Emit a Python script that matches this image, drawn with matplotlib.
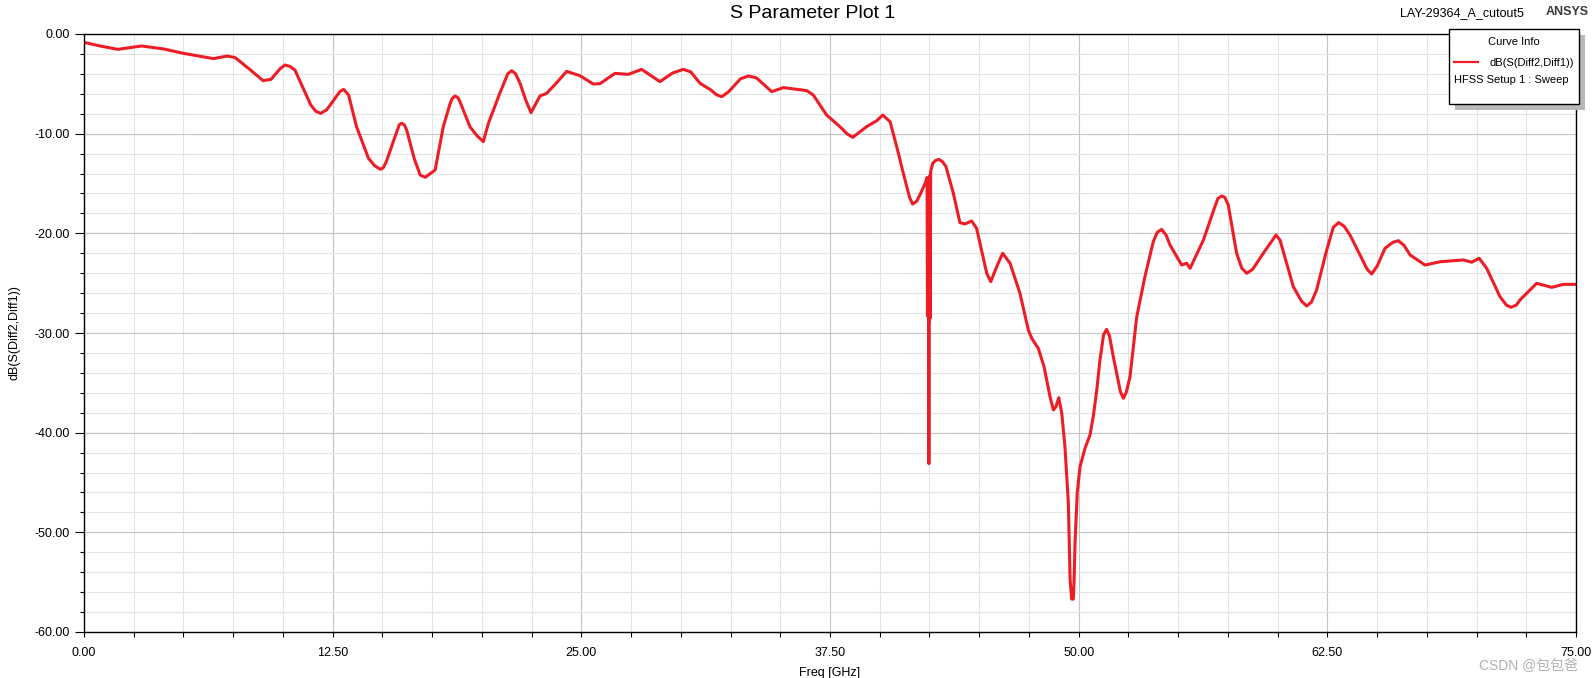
import matplotlib
matplotlib.use("Agg")
import matplotlib.pyplot as plt
from matplotlib.patches import Rectangle
from matplotlib.lines import Line2D
from matplotlib.ticker import MultipleLocator, FormatStrFormatter

# Dados (frequencia em GHz, S21 diferencial em dB)
freq_ghz = [
    0.0, 0.8, 1.7, 2.9, 4.0, 5.0, 6.5, 7.2, 7.6, 8.3,
    9.0, 9.4, 9.85, 10.1, 10.35, 10.6, 11.4, 11.65, 11.9, 12.2,
    12.5, 12.85, 13.05, 13.3, 13.7, 14.3, 14.6, 14.9, 15.05, 15.2,
    15.6, 15.85, 15.97, 16.1, 16.22, 16.6, 16.9, 17.15, 17.65, 18.06,
    18.4, 18.5, 18.65, 18.8, 18.9, 19.4, 19.75, 20.07, 20.33, 20.9,
    21.3, 21.5, 21.7, 21.92, 22.2, 22.47, 22.92, 23.26, 23.8, 24.26,
    24.93, 25.6, 25.94, 26.69, 27.36, 28.03, 28.95, 29.6, 30.13, 30.5,
    30.97, 31.5, 31.8, 32.06, 32.4, 33.0, 33.4, 33.8, 34.57, 35.16,
    36.33, 36.66, 37.33, 38.0, 38.35, 38.64, 38.95, 39.34, 39.85, 40.15,
    40.52, 40.94, 41.1, 41.4, 41.5, 41.65, 41.85, 42.02, 42.30, 42.38,
    42.40, 42.42, 42.43, 42.45, 42.47, 42.49, 42.50, 42.52, 42.54, 42.56,
    42.66, 42.8, 42.97, 43.15, 43.33, 43.7, 44.03, 44.28, 44.62, 44.87,
    45.38, 45.58, 45.88, 46.18, 46.55, 47.05, 47.47, 47.64, 47.97, 48.26,
    48.56, 48.73, 48.86, 49.0, 49.15, 49.31, 49.48, 49.57, 49.65, 49.73,
    49.77, 49.82, 49.93, 50.07, 50.32, 50.57, 50.74, 50.91, 51.07, 51.25,
    51.4, 51.55, 51.74, 52.1, 52.25, 52.4, 52.58, 52.92, 53.33, 53.75,
    53.95, 54.17, 54.4, 54.59, 55.18, 55.43, 55.6, 56.27, 56.8, 57.0,
    57.19, 57.35, 57.52, 57.94, 58.2, 58.45, 58.75, 59.28, 59.92, 60.12,
    60.79, 61.2, 61.46, 61.7, 61.96, 62.47, 62.8, 63.07, 63.35, 63.64,
    64.14, 64.5, 64.73, 65.0, 65.4, 65.8, 66.07, 66.35, 66.66, 67.41,
    68.17, 69.34, 69.76, 70.13, 70.51, 71.18, 71.5, 71.73, 72.0, 72.18,
    73.02, 73.78, 74.36, 75.0,
]
s21_db = [
    -0.84, -1.2, -1.54, -1.2, -1.5, -1.94, -2.47, -2.21, -2.37, -3.5,
    -4.68, -4.55, -3.5, -3.11, -3.25, -3.61, -7.12, -7.75, -7.96, -7.6,
    -6.79, -5.8, -5.55, -6.12, -9.3, -12.47, -13.2, -13.58, -13.4, -12.8,
    -10.5, -9.1, -8.96, -9.1, -9.63, -12.5, -14.15, -14.38, -13.65, -9.3,
    -7.0, -6.5, -6.22, -6.4, -6.79, -9.3, -10.2, -10.8, -8.96, -5.95,
    -4.0, -3.68, -4.0, -4.95, -6.6, -7.89, -6.22, -5.95, -4.8, -3.75,
    -4.18, -5.02, -4.98, -3.95, -4.05, -3.55, -4.78, -3.9, -3.55, -3.8,
    -4.95, -5.6, -6.1, -6.29, -5.8, -4.5, -4.21, -4.4, -5.78, -5.38,
    -5.68, -6.12, -8.13, -9.3, -10.0, -10.37, -9.9, -9.3, -8.7, -8.13,
    -8.8, -11.97, -13.31, -15.6, -16.4, -17.06, -16.8, -16.15, -14.9, -14.4,
    -28.3, -14.5, -28.0, -14.6, -43.1, -14.6, -28.8, -14.2, -28.5, -13.8,
    -12.98, -12.7, -12.58, -12.8, -13.31, -15.98, -18.93, -19.06, -18.76, -19.5,
    -24.01, -24.85, -23.35, -22.0, -23.0, -26.02, -29.7, -30.53, -31.54, -33.38,
    -36.39, -37.72, -37.39, -36.49, -38.05, -41.4, -47.0, -54.8, -56.7, -56.7,
    -54.8, -50.9, -46.0, -43.4, -41.57, -40.23, -38.3, -35.72, -32.71, -30.2,
    -29.63, -30.3, -32.37, -35.9, -36.55, -35.9, -34.38, -28.36, -24.35, -20.84,
    -19.9, -19.6, -20.2, -21.17, -23.18, -23.0, -23.51, -20.67, -17.6, -16.5,
    -16.25, -16.4, -17.16, -22.0, -23.5, -24.01, -23.6, -22.0, -20.17, -20.67,
    -25.35, -26.8, -27.29, -26.9, -25.68, -21.67, -19.4, -18.92, -19.3, -20.17,
    -22.17, -23.6, -24.08, -23.3, -21.5, -20.9, -20.74, -21.2, -22.17, -23.18,
    -22.85, -22.67, -22.9, -22.5, -23.51, -26.36, -27.2, -27.42, -27.2, -26.69,
    -25.02, -25.42, -25.12, -25.12,
]

W, H = 1594, 678
FONTE = "Liberation Sans"
VERMELHO = "#ee1c25"


def px(x, y):
    # converte pixel da imagem para fracao da figura
    return x / W, 1 - y / H


def gerar_grafico():
    fig = plt.figure(figsize=(W / 100, H / 100), dpi=100)
    ax = fig.add_axes([84 / W, 1 - 632 / H, (1576 - 84) / W, (632 - 34) / H])

    ax.plot(freq_ghz, s21_db, color=VERMELHO, lw=2.2, solid_joinstyle="round")

    ax.set_xlim(0, 75)
    ax.set_ylim(-60, 0)
    ax.xaxis.set_major_locator(MultipleLocator(12.5))
    ax.xaxis.set_minor_locator(MultipleLocator(2.5))
    ax.yaxis.set_major_locator(MultipleLocator(10))
    ax.yaxis.set_minor_locator(MultipleLocator(2))
    ax.xaxis.set_major_formatter(FormatStrFormatter("%.2f"))
    ax.yaxis.set_major_formatter(FormatStrFormatter("%.2f"))

    ax.grid(which="major", color="#c4c4c4", lw=0.8)
    ax.grid(which="minor", color="#e3e3e3", lw=0.8)
    ax.set_axisbelow(True)

    ax.tick_params(axis="x", which="both", direction="out", length=3.3, width=0.8, pad=7.5)
    ax.tick_params(axis="y", which="major", direction="out", length=6.5, width=0.8, pad=4)
    ax.tick_params(axis="y", which="minor", direction="out", length=3.2, width=0.8)
    for lab in ax.get_xticklabels() + ax.get_yticklabels():
        lab.set_fontfamily(FONTE)
        lab.set_fontsize(9)
    for sp in ax.spines.values():
        sp.set_linewidth(1.0)

    ax.set_xlabel("Freq [GHz]", fontfamily=FONTE, fontsize=9, labelpad=6)
    ax.set_ylabel("dB(S(Diff2,Diff1))", fontfamily=FONTE, fontsize=9, labelpad=10)

    # Titulos
    fig.text(*px(813, 14), "S Parameter Plot 1", fontfamily=FONTE, fontsize=14,
             ha="center", va="center")
    fig.text(*px(1400, 13), "LAY-29364_A_cutout5", fontfamily=FONTE, fontsize=9,
             ha="left", va="center")
    fig.text(*px(1546, 12), "ANSYS", fontfamily=FONTE, fontsize=9, fontweight="bold",
             color="#3a3a3a", ha="left", va="center")

    # Caixa "Curve Info"
    x0, y0, x1, y1 = 1449, 29, 1579, 104
    fig.add_artist(Rectangle(px(x0 + 6, y1 + 6), (x1 - x0) / W, (y1 - y0) / H,
                             transform=fig.transFigure, facecolor="#b8b8b8",
                             edgecolor="none", zorder=9))
    fig.add_artist(Rectangle(px(x0, y1), (x1 - x0) / W, (y1 - y0) / H,
                             transform=fig.transFigure, facecolor="white",
                             edgecolor="black", lw=1.0, zorder=10))
    fig.text(*px(1514, 42), "Curve Info", fontfamily=FONTE, fontsize=8,
             ha="center", va="center", zorder=11)
    fig.add_artist(Line2D([1454 / W, 1478 / W], [1 - 62 / H, 1 - 62 / H],
                          transform=fig.transFigure, color=VERMELHO, lw=1.6, zorder=11))
    fig.text(*px(1490, 63), "dB(S(Diff2,Diff1))", fontfamily=FONTE, fontsize=8,
             ha="left", va="center", zorder=11)
    fig.text(*px(1454, 80), "HFSS Setup 1 : Sweep", fontfamily=FONTE, fontsize=8,
             ha="left", va="center", zorder=11)

    # marca d'agua
    fig.text(*px(1578, 666), "CSDN @包包爸", family=[FONTE, "Noto Sans CJK SC"],
             fontsize=10, color="#b0b0b0", ha="right", va="center")

    fig.savefig("out.png", dpi=100)


if __name__ == "__main__":
    gerar_grafico()
